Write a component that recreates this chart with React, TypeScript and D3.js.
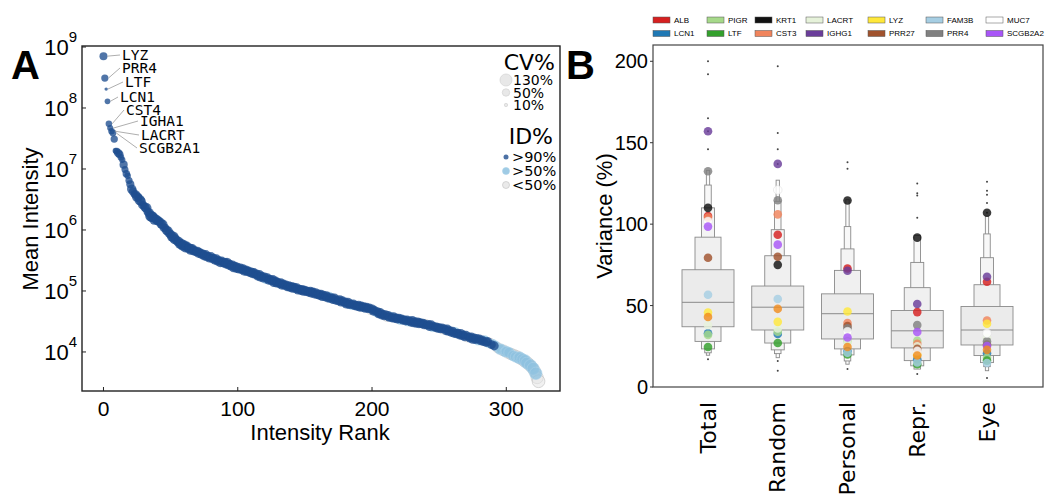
import React from "react";
import * as d3 from "d3";

// ---------- Panel A data ----------
const logIntensity = [
  8.85, 8.49, 8.31, 8.11, 7.74, 7.67, 7.62, 7.59, 7.49, 7.3,
  7.29, 7.26, 7.24, 7.19, 7.15, 7.07, 6.99, 6.92, 6.89, 6.81,
  6.75, 6.67, 6.63, 6.59, 6.58, 6.54, 6.53, 6.49, 6.47, 6.41,
  6.4, 6.37, 6.36, 6.3, 6.28, 6.23, 6.22, 6.21, 6.17, 6.18,
  6.16, 6.14, 6.14, 6.1, 6.09, 6.04, 6.03, 5.99, 5.98, 5.94,
  5.93, 5.89, 5.89, 5.85, 5.84, 5.81, 5.81, 5.77, 5.77, 5.74,
  5.75, 5.72, 5.73, 5.7, 5.7, 5.68, 5.69, 5.66, 5.66, 5.64,
  5.65, 5.62, 5.63, 5.6, 5.61, 5.58, 5.59, 5.56, 5.57, 5.54,
  5.56, 5.53, 5.54, 5.51, 5.52, 5.49, 5.5, 5.47, 5.49, 5.46,
  5.47, 5.45, 5.46, 5.43, 5.44, 5.41, 5.42, 5.39, 5.4, 5.37,
  5.39, 5.36, 5.37, 5.35, 5.36, 5.33, 5.34, 5.32, 5.33, 5.3,
  5.31, 5.29, 5.3, 5.27, 5.28, 5.25, 5.26, 5.23, 5.24, 5.21,
  5.23, 5.2, 5.21, 5.18, 5.19, 5.17, 5.18, 5.15, 5.16, 5.13,
  5.14, 5.12, 5.13, 5.1, 5.11, 5.09, 5.1, 5.07, 5.08, 5.06,
  5.07, 5.05, 5.06, 5.04, 5.05, 5.02, 5.03, 5.01, 5.02, 5.0,
  5.01, 4.99, 5.0, 4.98, 4.99, 4.97, 4.98, 4.95, 4.97, 4.94,
  4.95, 4.93, 4.94, 4.91, 4.93, 4.9, 4.92, 4.89, 4.9, 4.88,
  4.89, 4.86, 4.88, 4.85, 4.86, 4.84, 4.85, 4.82, 4.84, 4.81,
  4.82, 4.79, 4.81, 4.78, 4.79, 4.77, 4.78, 4.76, 4.77, 4.75,
  4.76, 4.74, 4.75, 4.73, 4.74, 4.72, 4.73, 4.71, 4.72, 4.69,
  4.7, 4.67, 4.68, 4.65, 4.66, 4.63, 4.64, 4.61, 4.62, 4.59,
  4.61, 4.58, 4.59, 4.57, 4.58, 4.56, 4.57, 4.55, 4.56, 4.54,
  4.55, 4.53, 4.54, 4.52, 4.53, 4.51, 4.52, 4.5, 4.51, 4.49,
  4.51, 4.48, 4.5, 4.47, 4.49, 4.47, 4.48, 4.46, 4.47, 4.45,
  4.46, 4.44, 4.45, 4.42, 4.44, 4.41, 4.42, 4.4, 4.41, 4.39,
  4.4, 4.38, 4.39, 4.37, 4.38, 4.35, 4.37, 4.34, 4.35, 4.32,
  4.34, 4.31, 4.32, 4.3, 4.31, 4.28, 4.3, 4.27, 4.28, 4.25,
  4.27, 4.24, 4.25, 4.23, 4.24, 4.21, 4.23, 4.2, 4.22, 4.19,
  4.21, 4.18, 4.2, 4.17, 4.19, 4.16, 4.17, 4.14, 4.15, 4.12,
  4.13, 4.1, 4.1, 4.07, 4.07, 4.04, 4.05, 4.02, 4.03, 4.0,
  4.01, 3.98, 3.99, 3.96, 3.97, 3.94, 3.95, 3.92, 3.93, 3.9,
  3.91, 3.88, 3.88, 3.85, 3.86, 3.82, 3.82, 3.79, 3.78, 3.75,
  3.73, 3.69, 3.65, 3.58, 3.52,
];

const cvPct = [
  55, 45, 10, 28, 36, 32, 36, 40, 46, 30,
  44, 60, 52, 38, 34, 58, 42, 48, 36, 44,
  56, 76, 62, 50, 68, 84, 58, 94, 76, 64,
  54, 70, 88, 64, 78, 96, 104, 86, 92, 72,
  80, 68, 60, 76, 84, 66, 56, 72, 80, 64,
  70, 82, 96, 86, 72, 66, 78, 84, 94, 80,
  88, 98, 82, 72, 80, 92, 84, 76, 70, 62,
  74, 82, 66, 72, 64, 80, 88, 70, 62, 72,
  78, 66, 60, 74, 82, 72, 64, 80, 70, 62,
  72, 84, 94, 78, 66, 74, 82, 90, 80, 70,
  64, 72, 80, 66, 74, 84, 78, 70, 62, 66,
  74, 82, 72, 64, 70, 80, 88, 78, 70, 62,
  66, 78, 84, 74, 66, 72, 82, 90, 80, 72,
  64, 70, 78, 84, 74, 66, 62, 72, 80, 70,
  78, 84, 74, 66, 72, 80, 64, 70, 78, 82,
  72, 66, 62, 70, 78, 84, 74, 66, 72, 64,
  70, 78, 82, 74, 66, 62, 72, 80, 84, 74,
  66, 72, 78, 70, 64, 72, 80, 74, 66, 62,
  70, 78, 82, 72, 66, 74, 80, 70, 64, 72,
  78, 82, 74, 66, 70, 78, 72, 64, 70, 74,
  80, 72, 66, 62, 70, 78, 82, 74, 70, 64,
  72, 78, 82, 74, 66, 72, 80, 70, 64, 70,
  74, 80, 72, 66, 62, 70, 78, 72, 66, 74,
  80, 72, 64, 70, 74, 80, 70, 64, 72, 78,
  70, 64, 72, 78, 82, 74, 66, 62, 70, 74,
  66, 72, 78, 70, 64, 72, 80, 74, 66, 62,
  70, 74, 80, 72, 66, 70, 78, 72, 64, 70,
  74, 70, 64, 72, 78, 72, 66, 62, 70, 74,
  72, 66, 64, 70, 74, 80, 72, 66, 70, 64,
  74, 70, 80, 76, 82, 78, 86, 80, 90, 84,
  92, 86, 94, 90, 98, 92, 100, 96, 104, 98,
  108, 102, 110, 106, 116, 110, 120, 114, 124, 118,
  126, 122, 130, 128, 140,
];

// ranks with identification 50-90% (light blue) and <50% (grey)
const idMidRanks = [121, 168, 185, 203, 214, 221, 227, 245, 262, 279, 284, 287, 290, 292, 295, 296, 299, 300, 302, 305, 307, 309, 310, 312, 314, 315, 318, 320, 322];
const idLowRanks = [174, 199, 211, 240, 253, 271, 288, 293, 294, 297, 298, 301, 303, 304, 306, 308, 311, 313, 316, 317, 319, 321, 323, 324];

const labelGenes = ["LYZ", "PRR4", "LTF", "LCN1", "CST4", "IGHA1", "LACRT", "SCGB2A1"];
const labelRanks = [0, 1, 2, 3, 4, 5, 6, 7];
const yTickExpA = [4, 5, 6, 7, 8, 9];
const xTicksA = [0, 100, 200, 300];
const cvLegend = [130, 50, 10];
const idLegend = [">90%", ">50%", "<50%"];

// ---------- Panel B data ----------
const groups = ["Total", "Random", "Personal", "Repr.", "Eye"];
const medians = [52, 49, 45, 34.5, 35];
const lvLow = [
  [37, 28, 23.4, 21, 19.5],
  [35, 27, 22.8, 20.5, 18],
  [29.5, 23.4, 19.7, 16, 14],
  [24, 16.2, 13, 11],
  [25.8, 19.3, 15, 12.5, 10],
];
const lvHigh = [
  [72, 92, 110, 124, 133],
  [62, 80.6, 96.6, 114, 127],
  [57.2, 71.6, 84.8, 98.5, 115],
  [47, 61, 76.5, 93],
  [49.4, 62.8, 79.4, 94, 105],
];
const outliers = [
  [200, 192, 165, 157, 146, 17],
  [197, 156, 146, 137, 16, 10],
  [138, 134, 11],
  [125, 119, 117.6, 104, 8],
  [126, 120.5, 118, 113, 107, 5.5],
];
const yTicksB = [0, 50, 100, 150, 200];

const genes = ["ALB", "LCN1", "PIGR", "LTF", "KRT1", "CST3", "LACRT", "IGHG1", "LYZ", "PRR27", "FAM3B", "PRR4", "MUC7", "SCGB2A2", "PIP"];
const geneColors = ["#d62020", "#1f78b4", "#a6d98a", "#33a02c", "#111111", "#f0845c", "#e6f2da", "#6a3d9a", "#ffe83a", "#a0522d", "#a6cee3", "#808080", "#ffffff", "#a855f7", "#f08c1e"];
const geneValues = [
  [105, 93.5, 72.8, 46, 64.6],
  [33, 32.6, 22, 17, 20.8],
  [32, 34, 28, 28.3, 18],
  [24.6, 27, 20, 14, 16.2],
  [110, 75, 114.5, 91.7, 107],
  [104, 106, 39.3, 26.5, 40.8],
  [38, 36, 27.3, 25, 30],
  [157, 137, 71.4, 51, 67.7],
  [45.7, 40, 46.4, 20, 38.8],
  [79.4, 80, 37.5, 23.4, 26],
  [56.6, 54, 21, 15, 14.7],
  [132.5, 114.7, 36, 38, 28],
  [101.7, 121, 34, 22, 33],
  [98.5, 87.4, 30.4, 33.8, 25.2],
  [43, 48, 24.6, 19.3, 22.8],
];
const legendGenes = 14; // the 15th legend column is clipped in the original

const SANS = "'Liberation Sans', Arial, sans-serif";
const DJV = "'DejaVu Sans', sans-serif";
const MONO = "'DejaVu Sans Mono', monospace";

export default function App() {
  const xA = d3.scaleLinear().domain([-16, 340]).range([82, 560]);
  const yA = d3.scaleLog().domain([Math.pow(10, 3.36), 1e9]).range([391, 47]);
  const rA = (cv: number) => 0.54 * Math.sqrt(cv);

  const pts = logIntensity.map((l, i) => ({
    rank: i,
    v: Math.pow(10, l),
    cv: cvPct[i],
    id: idLowRanks.includes(i) ? 2 : idMidRanks.includes(i) ? 1 : 0,
  }));
  const idFill = ["#1f4e8f", "#8ec2e0", "#e6e6e6"];
  const idStroke = ["none", "#a9d0e8", "#c0c0c0"];
  const idOpacity = [0.78, 0.8, 0.55];

  const labelPos = [
    [122, 55], [122, 68], [125, 82], [120, 97], [126, 110], [140, 121], [141, 135], [139, 148],
  ];

  const xB = d3.scalePoint<string>().domain(groups).range([708, 987]);
  const yB = d3.scaleLinear().domain([0, 210]).range([387, 45]);
  const boxW = [52, 26, 13, 6.5, 3.3];
  const boxFill = ["#ebebeb", "#f0f0f0", "#f4f4f4", "#f8f8f8", "#fbfbfb"];

  const legCols = [653, 707, 755, 806, 868, 926, 986];

  return (
    <svg width={1045} height={498} style={{ position: "absolute", left: 0, top: 0, background: "#fff" }}>
      {/* ================= Panel A ================= */}
      <text x={11} y={79} fontFamily={SANS} fontWeight="bold" fontSize={40}>A</text>
      <g>
        {[2, 1, 0].map((lvl) =>
          pts.filter((p) => p.id === lvl).map((p) => (
            <circle key={`p${lvl}-${p.rank}`} cx={xA(p.rank)} cy={yA(p.v)} r={rA(p.cv)}
              fill={idFill[lvl]} fillOpacity={idOpacity[lvl]} stroke={idStroke[lvl]} strokeWidth={0.6} />
          ))
        )}
      </g>
      {labelGenes.map((g, i) => {
        const p = pts[labelRanks[i]];
        const [tx, ty] = labelPos[i];
        return (
          <g key={g}>
            <line x1={xA(p.rank) + rA(p.cv)} y1={yA(p.v)} x2={tx - 2} y2={ty} stroke="#999" strokeWidth={0.8} />
            <text x={tx} y={ty} dominantBaseline="central" fontFamily={MONO} fontSize={14.5}>{g}</text>
          </g>
        );
      })}
      <rect x={82} y={46} width={478} height={345} fill="none" stroke="#222" strokeWidth={1.4} />
      {yTickExpA.map((e) => (
        <g key={`ya${e}`}>
          <line x1={82} x2={86} y1={yA(Math.pow(10, e))} y2={yA(Math.pow(10, e))} stroke="#222" />
          <text x={77} y={yA(Math.pow(10, e)) + 8} textAnchor="end" fontFamily={SANS} fontSize={22}>
            10<tspan dy={-13} fontSize={15}>{e}</tspan>
          </text>
        </g>
      ))}
      {xTicksA.map((t) => (
        <g key={`xa${t}`}>
          <line x1={xA(t)} x2={xA(t)} y1={391} y2={387} stroke="#222" />
          <text x={xA(t)} y={416} textAnchor="middle" fontFamily={SANS} fontSize={21}>{t}</text>
        </g>
      ))}
      <text x={320} y={440} textAnchor="middle" fontFamily={SANS} fontSize={22}>Intensity Rank</text>
      <text transform="translate(38,219) rotate(-90)" textAnchor="middle" fontFamily={SANS} fontSize={22}>Mean Intensity</text>
      <text x={555} y={70} textAnchor="end" fontFamily={DJV} fontSize={22}>CV%</text>
      {cvLegend.map((c, i) => (
        <g key={`cv${c}`}>
          <circle cx={506} cy={80 + i * 12.5} r={0.53 * Math.sqrt(c)} fill="#e8e8e8" stroke="#cfcfcf" strokeWidth={0.6} />
          <text x={513} y={80 + i * 12.5} dominantBaseline="central" fontFamily={DJV} fontSize={14}>{c}%</text>
        </g>
      ))}
      <text x={553} y={144} textAnchor="end" fontFamily={DJV} fontSize={22}>ID%</text>
      {idLegend.map((t, i) => (
        <g key={`id${i}`}>
          <circle cx={506} cy={157 + i * 14} r={i === 0 ? 2.5 : 3.5} fill={idFill[i]} fillOpacity={i === 0 ? 0.8 : 0.85} stroke={idStroke[i]} strokeWidth={0.6} />
          <text x={512} y={157 + i * 14} dominantBaseline="central" fontFamily={DJV} fontSize={14.5}>{t}</text>
        </g>
      ))}

      {/* ================= Panel B ================= */}
      <text x={566} y={79} fontFamily={SANS} fontWeight="bold" fontSize={40}>B</text>
      {genes.slice(0, legendGenes).map((g, i) => {
        const col = Math.floor(i / 2);
        const row = i % 2;
        const x = legCols[col];
        const y = 20 + row * 13.5;
        return (
          <g key={`lg${g}`}>
            <rect x={x} y={y - 3} width={17} height={6} fill={geneColors[i]} stroke="#555" strokeWidth={0.5} />
            <text x={x + 21} y={y} dominantBaseline="central" fontFamily={SANS} fontSize={8}>{g}</text>
          </g>
        );
      })}
      {groups.map((g, gi) => {
        const cx = xB(g) as number;
        const lows = lvLow[gi];
        const highs = lvHigh[gi];
        const idx = d3.range(lows.length).reverse();
        return (
          <g key={`bx${g}`}>
            {idx.map((k) => (
              <rect key={k} x={cx - boxW[k] / 2} y={yB(highs[k])} width={boxW[k]} height={yB(lows[k]) - yB(highs[k])}
                fill={boxFill[k]} stroke="#8a8a8a" strokeWidth={0.9} />
            ))}
            <line x1={cx - boxW[0] / 2} x2={cx + boxW[0] / 2} y1={yB(medians[gi])} y2={yB(medians[gi])} stroke="#8a8a8a" strokeWidth={1} />
            {outliers[gi].map((o, j) => (
              <circle key={`o${j}`} cx={cx} cy={yB(o)} r={1} fill="#444" />
            ))}
          </g>
        );
      })}
      {genes.map((g, i) =>
        groups.map((grp, gi) => (
          <circle key={`gd${g}${gi}`} cx={xB(grp) as number} cy={yB(geneValues[i][gi])} r={4.3}
            fill={geneColors[i]} fillOpacity={0.82} stroke={g === "MUC7" ? "#e0e0e0" : "none"} strokeWidth={0.6} />
        ))
      )}
      <rect x={653} y={45} width={390} height={342} fill="none" stroke="#444" strokeWidth={1.2} />
      {yTicksB.map((t) => (
        <g key={`yb${t}`}>
          <line x1={650} x2={653} y1={yB(t)} y2={yB(t)} stroke="#333" />
          <text x={648} y={yB(t)} textAnchor="end" dominantBaseline="central" fontFamily={SANS} fontSize={20}>{t}</text>
        </g>
      ))}
      {groups.map((g) => (
        <text key={`xl${g}`} transform={`translate(${xB(g)},402) rotate(-90)`} textAnchor="end" dominantBaseline="central" fontFamily={DJV} fontSize={22}>{g}</text>
      ))}
      <text transform="translate(604,216) rotate(-90)" textAnchor="middle" dominantBaseline="central" fontFamily={SANS} fontSize={22}>Variance (%)</text>
    </svg>
  );
}
